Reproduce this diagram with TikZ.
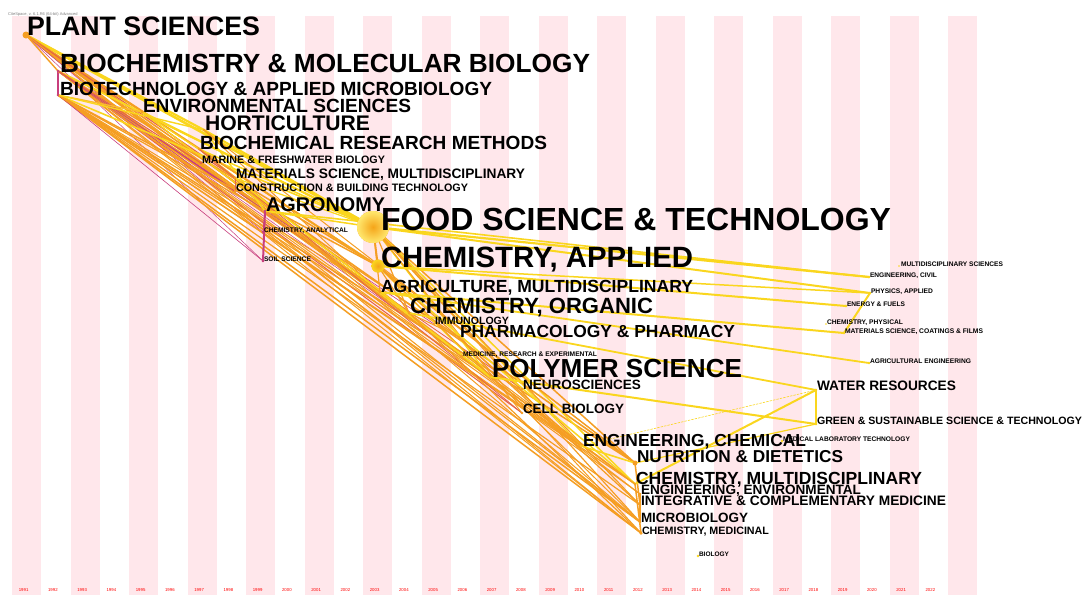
\documentclass[tikz,border=0pt]{standalone}
\usepackage{fontspec}
\setmainfont{Liberation Sans}

\definecolor{stripe}{RGB}{255,231,235}
\definecolor{emag}{RGB}{200,62,125}
\definecolor{ered}{RGB}{228,98,72}
\definecolor{eorg}{RGB}{245,158,35}
\definecolor{eamb}{RGB}{250,188,45}
\definecolor{eyel}{RGB}{250,214,30}
\definecolor{glowin}{RGB}{245,165,25}
\definecolor{glowout}{RGB}{255,232,110}

\pgfdeclarelayer{bg}
\pgfdeclarelayer{edges}
\pgfsetlayers{bg,edges,main}

\tikzset{
  lab/.style={anchor=base west, inner sep=0pt, outer sep=0pt, text=black,
              font=\bfseries\fontsize{10}{10}\selectfont},
  dot/.style={circle, inner sep=0pt, outer sep=0pt, minimum size=2.6pt, fill=eorg, draw=none},
  yr/.style={text=red, inner sep=0pt, font=\fontsize{4.3}{4.3}\selectfont},
  link/.style={line cap=round},
}

% name, dot x, dot y, label x, label y, label width, label, dot options
\newcommand{\field}[8]{%
  \node[dot,#8] (#1) at (#2,#3) {};
  \node[lab] (#1-l) at (#4,#5) {\resizebox{#6pt}{!}{#7}};
}

\begin{document}
\begin{tikzpicture}[x=1pt,y=-1pt]
\useasboundingbox (0,0) rectangle (1083,595);

% time-zone stripes and year axis
\begin{pgfonlayer}{bg}
  \fill[white] (0,0) rectangle (1083,595);
  \foreach \k in {0,...,16}
    \fill[stripe] ({12+58.5*\k},16) rectangle ++(29.25,579);
\end{pgfonlayer}
\foreach \i in {0,...,31}{
  \pgfmathtruncatemacro\yr{1991+\i}
  \node[yr] (y\i) at ({12+29.25*(\i+0.5)-3},590) {\yr};
}
\node[anchor=base west, inner sep=0pt, text=gray, font=\fontsize{4}{4}\selectfont]
  (hdr) at (8,15) {CiteSpace, v. 6.1.R6 (64-bit) Advanced};

% subject categories
\field{ps}{26}{35}{27}{35}{233}{PLANT SCIENCES}{minimum size=7pt, fill=eorg}
\field{bmb}{58}{71}{60}{72}{530}{BIOCHEMISTRY \& MOLECULAR BIOLOGY}{fill=emag}
\field{bam}{58}{95}{60}{95}{432}{BIOTECHNOLOGY \& APPLIED MICROBIOLOGY}{fill=emag}
\field{env}{142}{112}{143}{112}{268}{ENVIRONMENTAL SCIENCES}{}
\field{hort}{204}{130}{205}{130}{165}{HORTICULTURE}{}
\field{brm}{199}{149}{200}{149}{347}{BIOCHEMICAL RESEARCH METHODS}{}
\field{mfb}{201}{163}{202}{163}{183}{MARINE \& FRESHWATER BIOLOGY}{fill=ered}
\field{msm}{235}{178}{236}{178}{289}{MATERIALS SCIENCE, MULTIDISCIPLINARY}{}
\field{cbt}{235}{191}{236}{191}{232}{CONSTRUCTION \& BUILDING TECHNOLOGY}{}
\field{agro}{265}{211}{266}{211}{119}{AGRONOMY}{fill=emag}
\field{chan}{263}{232}{264}{232}{84}{CHEMISTRY, ANALYTICAL}{fill=emag}
\field{soil}{263}{261}{264}{261}{47}{SOIL SCIENCE}{fill=emag}
\field{food}{373}{227}{381}{230}{510}{FOOD SCIENCE \& TECHNOLOGY}{minimum size=32pt, shading=radial, inner color=glowin, outer color=glowout}
\field{capp}{378}{266}{381}{267}{312}{CHEMISTRY, APPLIED}{minimum size=13pt, shading=radial, inner color=glowin, outer color=eyel}
\field{agm}{380}{292}{381}{292}{312}{AGRICULTURE, MULTIDISCIPLINARY}{}
\field{corg}{409}{313}{410}{313}{243}{CHEMISTRY, ORGANIC}{}
\field{imm}{434}{324}{435}{324}{74}{IMMUNOLOGY}{}
\field{phar}{459}{337}{460}{337}{275}{PHARMACOLOGY \& PHARMACY}{}
\field{mre}{462}{356}{463}{356}{134}{MEDICINE, RESEARCH \& EXPERIMENTAL}{}
\field{poly}{490}{377}{492}{377}{250}{POLYMER SCIENCE}{fill=eamb}
\field{neu}{522}{389}{523}{389}{118}{NEUROSCIENCES}{}
\field{cell}{522}{413}{523}{413}{101}{CELL BIOLOGY}{}
\field{mlt}{782}{441}{783}{441}{127}{MEDICAL LABORATORY TECHNOLOGY}{fill=eyel}
\field{engc}{581}{446}{583}{446}{223}{ENGINEERING, CHEMICAL}{fill=eamb}
\field{nut}{635}{463}{637}{462}{206}{NUTRITION \& DIETETICS}{minimum size=5pt}
\field{cmul}{635}{484}{636}{484}{286}{CHEMISTRY, MULTIDISCIPLINARY}{}
\field{enve}{640}{494}{641}{494}{220}{ENGINEERING, ENVIRONMENTAL}{}
\field{icm}{640}{505}{641}{505}{305}{INTEGRATIVE \& COMPLEMENTARY MEDICINE}{}
\field{micro}{640}{522}{641}{522}{107}{MICROBIOLOGY}{}
\field{cmed}{641}{533}{642}{534}{127}{CHEMISTRY, MEDICINAL}{minimum size=3.5pt}
\field{bio}{698}{556}{699}{556}{30}{BIOLOGY}{fill=eyel}
\field{water}{816}{390}{817}{390}{139}{WATER RESOURCES}{fill=eyel}
\field{green}{816}{424}{817}{424}{265}{GREEN \& SUSTAINABLE SCIENCE \& TECHNOLOGY}{fill=eyel}
\field{msci}{899}{266}{901}{266}{102}{MULTIDISCIPLINARY SCIENCES}{fill=eyel, minimum size=1.6pt}
\field{civ}{869}{277}{870}{277}{67}{ENGINEERING, CIVIL}{fill=eyel}
\field{phys}{870}{293}{871}{293}{62}{PHYSICS, APPLIED}{fill=eyel}
\field{ener}{846}{306}{847}{306}{58}{ENERGY \& FUELS}{fill=eyel}
\field{cphy}{826}{324}{827}{324}{76}{CHEMISTRY, PHYSICAL}{fill=eyel, minimum size=1.6pt}
\field{coat}{844}{333}{845}{333}{138}{MATERIALS SCIENCE, COATINGS \& FILMS}{fill=eyel}
\field{agen}{869}{363}{870}{363}{101}{AGRICULTURAL ENGINEERING}{fill=eyel}

% co-occurrence links
\begin{pgfonlayer}{edges}
\foreach \a/\b/\c/\w in {
  ps/env/eyel/1.6, ps/hort/eyel/2.2, ps/brm/eorg/1.3, ps/agro/eorg/1.6,
  ps/food/eyel/2.6, ps/capp/eorg/2, ps/agm/eorg/1.3, ps/corg/eorg/1.1,
  ps/poly/eyel/1.6, ps/nut/eorg/1.6, ps/cmul/eorg/1.5, ps/micro/eorg/1.1,
  ps/cmed/eorg/1.1, ps/soil/emag/0.5, ps/chan/emag/0.5, ps/msm/ered/1.1,
  ps/cbt/eorg/1.1, ps/bmb/eorg/1.4,
  bmb/bam/emag/2.4, bmb/cbt/emag/1.8, bmb/food/eyel/1.8, bmb/capp/eorg/1.5,
  bmb/phar/eorg/1.2, bmb/cell/ered/1, bmb/neu/ered/0.8, bmb/corg/eorg/1.2,
  bmb/micro/eorg/1.2, bmb/cmed/eorg/1, bmb/enve/eorg/1, bmb/engc/eorg/1,
  bmb/imm/emag/0.6, bmb/mre/emag/0.5, bmb/mfb/ered/1,
  bam/food/eyel/1.6, bam/capp/eorg/1.5, bam/agm/eorg/1, bam/poly/eorg/1.2,
  bam/nut/eorg/1.5, bam/cmul/eorg/1.2, bam/icm/eorg/1.2, bam/micro/eorg/1.5,
  bam/cmed/eorg/1.5, bam/soil/emag/0.6, bam/agro/eorg/1.2, bam/engc/eorg/1.2,
  bam/env/eamb/1.4, bam/hort/eyel/1.4,
  env/food/eyel/2, env/capp/eyel/1.2, env/enve/eorg/1, env/engc/eorg/1,
  env/poly/eyel/1,
  hort/food/eyel/2.2, hort/agro/eyel/1.5, hort/agm/eorg/1, hort/nut/eorg/1,
  brm/food/eyel/1.5, brm/capp/eorg/1.2, brm/corg/eorg/1.2, brm/micro/eorg/1,
  brm/cell/ered/0.8,
  msm/poly/eyel/1.5, msm/food/eyel/1.2, msm/cbt/ered/1,
  agro/soil/emag/2, agro/food/eyel/1.5, agro/agm/eorg/1, agro/chan/emag/0.8,
  food/capp/eorg/1.8, food/agm/eorg/1.2, food/corg/eorg/1.2, food/phar/eorg/1.2,
  food/poly/eyel/1.5, food/nut/eorg/1.5, food/cmul/eyel/1.5, food/engc/eyel/1.2,
  food/neu/eorg/1, food/cell/eorg/1, food/icm/eorg/1.2, food/micro/eorg/1.2,
  capp/corg/eorg/1.2, capp/poly/eyel/1.5, capp/cmul/eyel/1.5, capp/engc/eorg/1.2,
  capp/nut/eorg/1.2, capp/micro/eorg/1,
  corg/phar/eorg/1, corg/cmed/eorg/1.2, corg/cmul/eorg/1,
  phar/icm/eorg/1.2, phar/cmed/eorg/1,
  engc/nut/eyel/1.6, nut/icm/eorg/1.5, cmul/cmed/eorg/1.5, enve/micro/eorg/1.2,
  food/civ/eyel/2.2, agro/civ/eyel/1.6, food/phys/eyel/2, capp/phys/eyel/1.5,
  capp/ener/eyel/2, agm/coat/eyel/2, agm/agen/eyel/1.8, corg/water/eyel/1.8,
  poly/green/eyel/2, water/cmul/eyel/2, water/green/eyel/2.2, phys/coat/eyel/2,
  green/nut/eyel/1.2}
  \draw[link, draw=\c, line width=\w pt] (\a.center) -- (\b.center);
\draw[link, draw=eyel, line width=0.6pt, dash pattern=on 2pt off 1.5pt]
  (water.center) -- (engc.center);
\end{pgfonlayer}
\end{tikzpicture}
\end{document}
